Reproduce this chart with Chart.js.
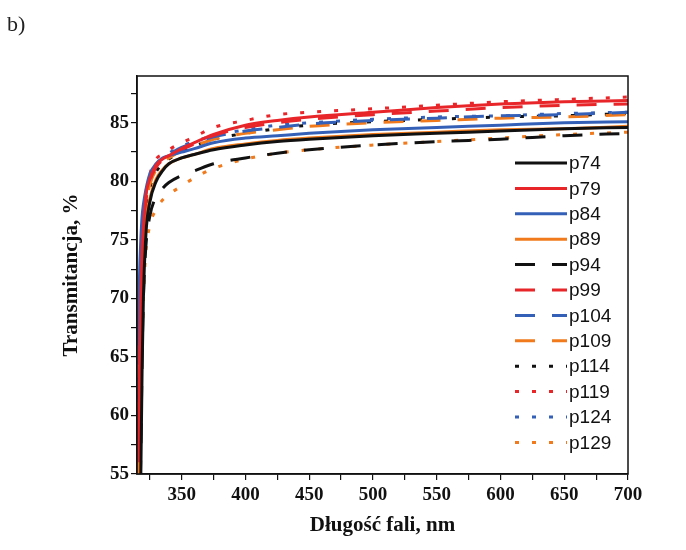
<!DOCTYPE html>
<html>
<head>
<meta charset="utf-8">
<script src="https://cdn.jsdelivr.net/npm/chart.js@4/dist/chart.umd.min.js"></script>
<style>
	body { margin: 0; background: #fff; }
	#wrap { width: 686px; height: 550px; }
</style>
</head>
<body>
<div id="wrap"><canvas id="myChart" width="686" height="550"></canvas></div>
<script>
// wavelength, nm
const waves = [316, 317, 318, 319, 320, 322, 325, 330, 335, 340, 350, 360, 375, 400, 425, 450, 500, 550, 600, 650, 700];

// transmittance, %
const p74  = [45, 50, 55, 64, 70, 75.5, 78.2, 80.0, 80.9, 81.5, 82.0, 82.3, 82.7, 83.1, 83.4, 83.6, 83.9, 84.1, 84.3, 84.5, 84.6];
const p79  = [56, 64, 70, 74, 76, 78.8, 80.2, 81.4, 81.9, 82.2, 82.8, 83.3, 84.0, 84.8, 85.2, 85.5, 85.9, 86.3, 86.6, 86.8, 86.9];
const p84  = [66, 72, 75, 77, 78, 79.3, 80.6, 81.5, 82.0, 82.2, 82.5, 82.8, 83.3, 83.7, 83.9, 84.1, 84.4, 84.6, 84.8, 85.0, 85.1];
const p89  = [52, 58, 65, 70, 73, 76.5, 78.5, 80.2, 81.0, 81.5, 82.0, 82.3, 82.8, 83.2, 83.5, 83.7, 84.0, 84.2, 84.4, 84.5, 84.7];
const p94  = [45, 51, 57, 65, 70, 74.5, 77.0, 78.7, 79.4, 79.9, 80.5, 80.9, 81.5, 82.0, 82.4, 82.7, 83.1, 83.4, 83.6, 83.9, 84.1];
const p99  = [55, 62, 69, 73, 75.5, 78.3, 80.0, 81.2, 81.8, 82.1, 82.7, 83.2, 83.9, 84.6, 85.0, 85.3, 85.7, 86.0, 86.3, 86.5, 86.6];
const p104 = [58, 66, 71, 74.5, 76.5, 78.8, 80.2, 81.3, 81.9, 82.3, 82.9, 83.3, 83.8, 84.3, 84.6, 84.9, 85.2, 85.4, 85.6, 85.7, 85.9];
const p109 = [54, 62, 68, 72.5, 75, 78.0, 79.7, 81.0, 81.6, 82.0, 82.6, 83.0, 83.6, 84.1, 84.4, 84.7, 85.0, 85.2, 85.4, 85.5, 85.7];
const p114 = [52, 60, 67, 71.5, 74.5, 77.5, 79.4, 80.8, 81.5, 81.9, 82.6, 83.0, 83.6, 84.1, 84.5, 84.8, 85.1, 85.3, 85.5, 85.6, 85.8];
const p119 = [56, 64, 70, 74, 76.5, 79.0, 80.6, 81.9, 82.3, 82.7, 83.3, 83.8, 84.6, 85.2, 85.7, 85.9, 86.2, 86.5, 86.8, 87.0, 87.2];
const p124 = [60, 67, 72, 75, 77, 79.0, 80.4, 81.4, 82.0, 82.4, 83.0, 83.4, 83.9, 84.4, 84.8, 85.0, 85.3, 85.5, 85.6, 85.8, 85.9];
const p129 = [48, 54, 60, 66, 70, 74.0, 76.2, 77.6, 78.4, 78.9, 79.6, 80.3, 81.1, 81.9, 82.4, 82.7, 83.1, 83.4, 83.7, 84.0, 84.2];

const seriesNames = ["p74", "p79", "p84", "p89", "p94", "p99", "p104", "p109", "p114", "p119", "p124", "p129"];
const seriesValues = [p74, p79, p84, p89, p94, p99, p104, p109, p114, p119, p124, p129];

// axis ticks (minor ticks have no label)
const xTicks = [325, 350, 375, 400, 425, 450, 475, 500, 525, 550, 575, 600, 625, 650, 675, 700];
const xLabels = [350, 400, 450, 500, 550, 600, 650, 700];
const yTicks = [55, 57.5, 60, 62.5, 65, 67.5, 70, 72.5, 75, 77.5, 80, 82.5, 85, 87.5];
const yLabels = [55, 60, 65, 70, 75, 80, 85];

const colors = ["#111111", "#e8262a", "#3560b8", "#f07a1c"];
const dashes = [[], [20, 17], [4, 13]];

const serif = "'Liberation Serif', 'Times New Roman', serif";

let datasets = [];
for (let i = 0; i < seriesNames.length; i++) {
	datasets.push({
		label: seriesNames[i],
		data: waves.map((w, j) => ({x: w, y: seriesValues[i][j]})),
		borderColor: colors[i % 4],
		borderDash: dashes[Math.floor(i / 4)],
		borderWidth: 3,
		pointRadius: 0,
		cubicInterpolationMode: "monotone",
		fill: false
	});
}

// frame, "b)" and legend inside the plot
const extras = {
	id: "extras",
	afterDatasetsDraw(chart) {
		let ctx = chart.ctx;
		let a = chart.chartArea;
		ctx.save();
		ctx.strokeStyle = "#111";
		ctx.lineWidth = 1.5;
		ctx.strokeRect(a.left, a.top, a.right - a.left, a.bottom - a.top);

		ctx.fillStyle = "#222";
		ctx.font = "22px " + serif;
		ctx.textBaseline = "alphabetic";
		ctx.fillText("b)", 7, 31);

		ctx.font = "19px 'Liberation Sans', Arial, sans-serif";
		ctx.textBaseline = "middle";
		let x0 = a.left + 378, x1 = a.left + 430, y = a.top + 87;
		for (let i = 0; i < datasets.length; i++) {
			let d = datasets[i];
			ctx.beginPath();
			ctx.setLineDash(d.borderDash);
			ctx.strokeStyle = d.borderColor;
			ctx.lineWidth = 3;
			ctx.moveTo(x0, y);
			ctx.lineTo(x1, y);
			ctx.stroke();
			ctx.setLineDash([]);
			ctx.fillStyle = "#111";
			ctx.fillText(d.label, x1 + 2, y + 1);
			y += 25.4;
		}
		ctx.restore();
	}
};

var ctx = document.getElementById("myChart").getContext("2d");
var chart = new Chart(ctx, {
	type: "line",
	data: { datasets: datasets },
	plugins: [extras],
	options: {
		responsive: false,
		animation: false,
		layout: { padding: { top: 76, right: 58, left: 0, bottom: 0 } },
		plugins: { legend: { display: false }, tooltip: { enabled: false } },
		scales: {
			x: {
				type: "linear",
				min: 315,
				max: 700,
				afterBuildTicks: (scale) => { scale.ticks = xTicks.map(v => ({value: v})); },
				afterFit: (scale) => { scale.height = 76; },
				border: { display: true, color: "#111", width: 1.5 },
				grid: { drawOnChartArea: false, drawTicks: true, tickLength: 6, color: "#111", lineWidth: 1.2 },
				ticks: {
					autoSkip: false,
					maxRotation: 0,
					padding: 4,
					color: "#111",
					font: { family: serif, size: 19, weight: "bold" },
					callback: (v) => xLabels.includes(v) ? String(v) : ""
				},
				title: {
					display: true,
					text: "Długość fali, nm",
					color: "#111",
					font: { family: serif, size: 21, weight: "bold" },
					padding: { top: 12, bottom: 12 }
				}
			},
			y: {
				min: 55,
				max: 89,
				afterBuildTicks: (scale) => { scale.ticks = yTicks.map(v => ({value: v})); },
				afterFit: (scale) => { scale.width = 137; },
				border: { display: true, color: "#111", width: 1.5 },
				grid: { drawOnChartArea: false, drawTicks: true, tickLength: 6, color: "#111", lineWidth: 1.2 },
				ticks: {
					autoSkip: false,
					padding: 2,
					color: "#111",
					font: { family: serif, size: 19, weight: "bold" },
					callback: (v) => yLabels.includes(v) ? String(v) : ""
				},
				title: {
					display: true,
					text: "Transmitancja, %",
					color: "#111",
					font: { family: serif, size: 21, weight: "bold" },
					padding: { top: 59, bottom: 0 }
				}
			}
		}
	}
});
</script>
</body>
</html>
